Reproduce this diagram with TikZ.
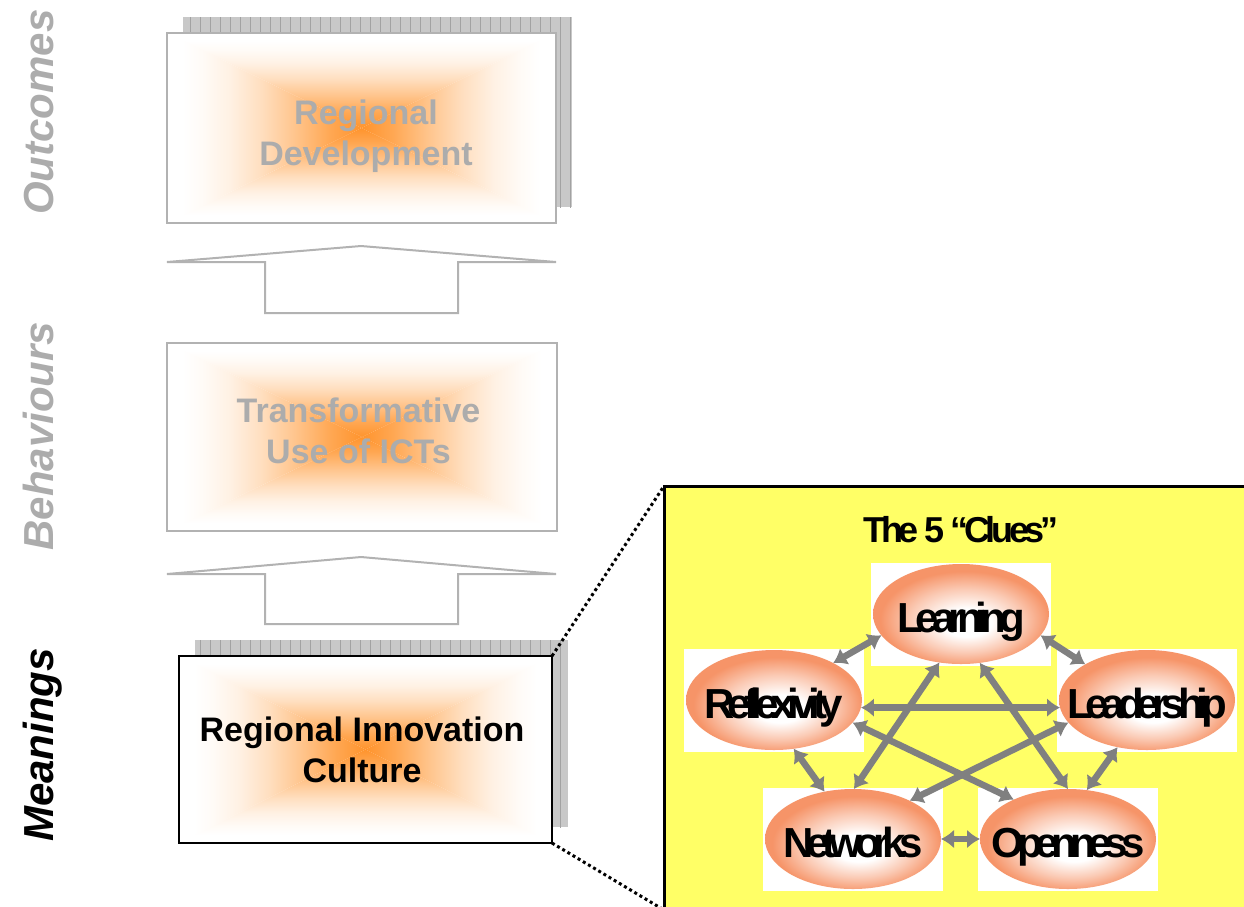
\documentclass[tikz,border=0pt]{standalone}
\usepackage{fontspec}
\setmainfont{Liberation Sans}
\newfontfamily\cluefont{Liberation Sans}[LetterSpace=-17]
\newfontfamily\titlefont{Liberation Sans}[LetterSpace=-12]
\usetikzlibrary{shapes.geometric,arrows.meta,calc}
\definecolor{boxorange}{RGB}{255,148,45}
\definecolor{txtgray}{RGB}{172,172,172}
\definecolor{bordergray}{RGB}{178,178,178}
\definecolor{panelyellow}{RGB}{255,255,102}
\definecolor{cluesalmon}{RGB}{246,148,104}
\definecolor{arrowgray}{RGB}{128,128,128}
\definecolor{shadowfill}{RGB}{200,200,200}
\definecolor{shadowline}{RGB}{162,162,162}
\pgfdeclarelayer{back}
\pgfdeclarelayer{bg}
\pgfsetlayers{back,bg,main}
\pgfdeclareverticalshading{boxv}{100bp}{color(0bp)=(boxorange); color(25bp)=(boxorange); color(33bp)=(boxorange!82!white); color(42bp)=(boxorange!55!white); color(51bp)=(boxorange!30!white); color(59bp)=(boxorange!13!white); color(66bp)=(boxorange!4!white); color(71bp)=(white); color(100bp)=(white)}
\pgfdeclareradialshading{clueshade}{\pgfpoint{2bp}{-5bp}}{color(0bp)=(white); color(7bp)=(white); color(16bp)=(cluesalmon!50!white); color(24bp)=(cluesalmon); color(50bp)=(cluesalmon)}
\newcommand\rectgrad[1]{%
  \fill[white] (#1.north west) rectangle (#1.south east);
  \shade[shading=boxv] (#1.center) -- (#1.north west) -- (#1.north east) -- cycle;
  \shade[shading=boxv,shading angle=180] (#1.center) -- (#1.south west) -- (#1.south east) -- cycle;
  \shade[shading=boxv,shading angle=90] (#1.center) -- (#1.north west) -- (#1.south west) -- cycle;
  \shade[shading=boxv,shading angle=270] (#1.center) -- (#1.north east) -- (#1.south east) -- cycle;
}
\newcommand\gridshadow[1]{%
  \begin{scope}
    \clip ($(#1.north west)+(16,-16)$) rectangle ($(#1.south east)+(16,-16)$);
    \fill[shadowfill] ($(#1.north west)+(16,-16)$) rectangle ($(#1.south east)+(16,-16)$);
    \draw[shadowline,line width=0.9pt,step=10] (153,6) grid (600,900);
  \end{scope}
}
\begin{document}
\begin{tikzpicture}[x=1pt,y=-1pt,
  sidelabel/.style={rotate=90,anchor=base,font=\bfseries\itshape\fontsize{42}{42}\selectfont,inner sep=0pt},
  stagebox/.style={rectangle,line width=2pt,inner sep=0pt,outer sep=0pt},
  stagetext/.style={align=center,inner sep=0pt,text depth=0pt,font=\bfseries\fontsize{34}{41}\selectfont},
  blockarrow/.style={draw=bordergray,line width=2pt,fill=white,line join=miter},
  panelbox/.style={rectangle,draw=black,line width=3pt,fill=panelyellow,inner sep=0pt,outer sep=0pt},
  dotline/.style={draw=black,line width=3pt,dash pattern=on 3pt off 3pt},
  whitebg/.style={rectangle,fill=white,inner sep=0pt,minimum width=180pt,minimum height=103pt},
  clue/.style={ellipse,shading=clueshade,inner xsep=-40pt,inner ysep=-15pt,outer sep=0pt,minimum width=176pt,minimum height=100pt,
     text height=36pt,text depth=0pt,font=\cluefont\bfseries\fontsize{42}{42}\selectfont},
  cluetitle/.style={font=\titlefont\bfseries\fontsize{36}{36}\selectfont,inner sep=0pt},
  link/.style={draw=arrowgray,line width=6.5pt,arrows={Latex[length=13pt,width=19pt]-Latex[length=13pt,width=19pt]}}
]
\useasboundingbox (0,0) rectangle (1244,906);

% side labels
\node[sidelabel,text=txtgray] (lout) at (53,112) {Outcomes};
\node[sidelabel,text=txtgray] (lbeh) at (53,436) {Behaviours};
\node[sidelabel,text=black] (lmea) at (53,745) {Meanings};

% stage boxes
\node[stagebox,draw=bordergray,minimum width=389pt,minimum height=190pt] (out) at (361.5,128) {};
\node[stagebox,draw=bordergray,minimum width=390pt,minimum height=188pt] (beh) at (362,437) {};
\node[stagebox,draw=black,minimum width=373pt,minimum height=187pt] (ric) at (365.5,749.5) {};
\node[stagetext,text=txtgray] (outtxt) at (366,133) {Regional\\Development};
\node[stagetext,text=txtgray] (behtxt) at (358.5,431) {Transformative\\Use of ICTs};
\node[stagetext,text=black] (rictxt) at (362,750) {Regional Innovation\\Culture};

\begin{pgfonlayer}{back}
  \gridshadow{out}
  \gridshadow{ric}
\end{pgfonlayer}
\begin{pgfonlayer}{bg}
  \rectgrad{out}
  \rectgrad{beh}
  \rectgrad{ric}
\end{pgfonlayer}

% block arrows
\draw[blockarrow] (167,262) -- (361,246) -- (556,262) -- (458,262) -- (458,313) -- (265,313) -- (265,262) -- cycle;
\draw[blockarrow] (167,574) -- (361,557) -- (556,574) -- (458,574) -- (458,624) -- (265,624) -- (265,574) -- cycle;

% panel
\node[panelbox,anchor=north west,minimum width=600pt,minimum height=424pt] (panel) at (664,486) {};
\draw[dotline] (ric.north east) -- (panel.north west);
\draw[dotline] (ric.south east) -- (panel.south west);

\node[cluetitle] (ttl) at (961,530) {The 5 “Clues”};

% clue backgrounds
\node[whitebg] (Lbg) at (961,614) {};
\node[whitebg] (Rbg) at (774,700) {};
\node[whitebg] (Ebg) at (1147,700) {};
\node[whitebg] (Nbg) at (853,839) {};
\node[whitebg] (Obg) at (1068,839) {};

% clues
\node[clue] (L) at (961,614) {Learning};
\node[clue] (R) at (774,700) {Reflexivity};
\node[clue] (E) at (1147,700) {Leadership};
\node[clue] (N) at (853,839) {Networks};
\node[clue] (O) at (1068,839) {Openness};

% links
\draw[link] (L.195) -- (R.32);
\draw[link] (L.345) -- (E.150);
\draw[link] (R.355) -- (E.185);
\draw[link] (L.246) -- (N.89);
\draw[link] (L.291) -- (O.90);
\draw[link] (R.344) -- (O.144);
\draw[link] (E.196) -- (N.34);
\draw[link] (R.292) -- (N.121);
\draw[link] (E.238) -- (O.69);
\draw[link] (N.0) -- (O.180);
\end{tikzpicture}
\end{document}
